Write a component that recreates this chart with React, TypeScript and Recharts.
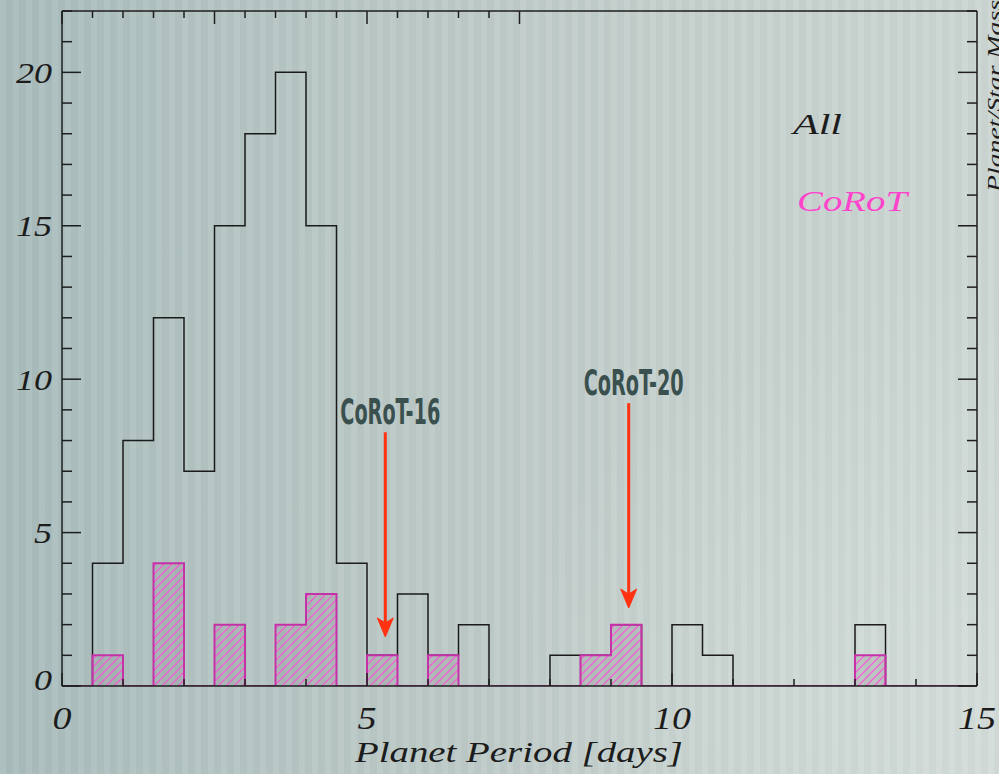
import React from 'react';
import { ComposedChart, Area, XAxis, YAxis, ReferenceLine, ReferenceDot } from 'recharts';

// Histogram of planet orbital periods, 0.5-day bins starting at 0 days
const binWidth = 0.5;
const allCounts = [0, 4, 8, 12, 7, 15, 18, 20, 15, 4, 1, 3, 1, 2, 0, 0, 1, 1, 2, 0, 2, 1, 0, 0, 0, 0, 2, 0, 0, 0];
const corotCounts = [0, 1, 0, 4, 0, 2, 0, 2, 3, 0, 1, 0, 1, 0, 0, 0, 0, 1, 2, 0, 0, 0, 0, 0, 0, 0, 1, 0, 0, 0];

const xMajorTicks = [0, 5, 10, 15];
const xTicks = [0, 1, 2, 3, 4, 5, 6, 7, 8, 9, 10, 11, 12, 13, 14, 15];
const yMajorTicks = [0, 5, 10, 15, 20];
const yTicks = [0, 1, 2, 3, 4, 5, 6, 7, 8, 9, 10, 11, 12, 13, 14, 15, 16, 17, 18, 19, 20, 21, 22];

// Highlighted planets: period, arrow start and arrow tip (counts)
const highlightNames = ['CoRoT-16', 'CoRoT-20'];
const highlightPeriods = [5.3, 9.29];
const highlightTops = [8.27, 9.22];
const highlightTips = [1.6, 2.54];

const W = 999;
const H = 774;

// stepAfter edges: one point per bin edge, last edge repeats last bin
const histData = Array.from({ length: allCounts.length + 1 }, (_, i) => {
  const k = Math.min(i, allCounts.length - 1);
  return { x: i * binWidth, all: allCounts[k], corot: corotCounts[k] };
});

const serif = "'Liberation Serif', 'DejaVu Serif', serif";
const inkColor = '#1c1c1c';
const axisStroke = '#1e1e1e';

const labelText = (value: number) => String(value);

// Bottom axis: inward tick marks, labels on the major ones
const BottomTick = (props: any) => {
  const { x, y, payload } = props;
  const major = xMajorTicks.includes(payload.value);
  const txt = labelText(payload.value);
  return (
    <g>
      <line x1={x} y1={y} x2={x} y2={y - (major ? 13 : 7)} stroke={axisStroke} strokeWidth={1.5} />
      {major && (
        <text
          x={x}
          y={y + 32}
          textAnchor="middle"
          dominantBaseline="central"
          fontFamily={serif}
          fontStyle="italic"
          fontSize={31}
          textLength={txt.length * 19}
          lengthAdjust="spacingAndGlyphs"
          fill={inkColor}
        >
          {txt}
        </text>
      )}
    </g>
  );
};

// Left axis: inward tick marks, labels on the major ones
const LeftTick = (props: any) => {
  const { x, y, payload } = props;
  const major = yMajorTicks.includes(payload.value);
  const txt = labelText(payload.value);
  return (
    <g>
      <line x1={x} y1={y} x2={x + (major ? 19 : 10)} y2={y} stroke={axisStroke} strokeWidth={1.5} />
      {major && (
        <text
          x={x - 10}
          y={payload.value === 0 ? y - 7 : y}
          textAnchor="end"
          dominantBaseline="central"
          fontFamily={serif}
          fontStyle="italic"
          fontSize={30}
          textLength={txt.length * 18}
          lengthAdjust="spacingAndGlyphs"
          fill={inkColor}
        >
          {txt}
        </text>
      )}
    </g>
  );
};

const TopTick = (props: any) => {
  const { x, y, payload } = props;
  const major = xMajorTicks.includes(payload.value);
  return <line x1={x} y1={y} x2={x} y2={y + (major ? 13 : 7)} stroke={axisStroke} strokeWidth={1.5} />;
};

const RightTick = (props: any) => {
  const { x, y, payload } = props;
  const major = yMajorTicks.includes(payload.value);
  return <line x1={x} y1={y} x2={x - (major ? 19 : 10)} y2={y} stroke={axisStroke} strokeWidth={1.5} />;
};

const ArrowHead = (props: any) => {
  const { cx, cy } = props;
  const d = `M ${cx} ${cy} L ${cx - 8} ${cy - 19} L ${cx} ${cy - 14} L ${cx + 8} ${cy - 19} Z`;
  return <path d={d} fill="#ff3212" stroke="#ff3212" strokeWidth={1} strokeLinejoin="miter" />;
};

const makeNameLabel = (name: string) => (props: any) => {
  const { cx, cy } = props;
  return (
    <text
      x={cx + 5}
      y={cy - 8}
      textAnchor="middle"
      fontFamily="'DejaVu Sans Condensed', 'DejaVu Sans', sans-serif"
      fontWeight="bold"
      fontSize={36}
      textLength={100}
      lengthAdjust="spacingAndGlyphs"
      fill="#3a504e"
    >
      {name}
    </text>
  );
};

export default function App() {
  return (
    <div
      style={{
        position: 'absolute',
        left: 0,
        top: 0,
        width: W,
        height: H,
        overflow: 'hidden',
        background:
          'repeating-linear-gradient(90deg, rgba(255,255,255,0.045) 0px, rgba(255,255,255,0.045) 6px, rgba(0,0,0,0.02) 6px, rgba(0,0,0,0.02) 13px), ' +
          'radial-gradient(ellipse 700px 600px at 1000px 700px, rgba(220,228,224,0.5), rgba(220,228,224,0) 70%), ' +
          'linear-gradient(90deg, #a9bcbc 0%, #b3c4c2 20%, #bdcac8 45%, #c6d1ce 70%, #ccd6d3 100%)',
      }}
    >
      <ComposedChart width={W} height={H} data={histData} margin={{ top: 10, right: 21, left: 12, bottom: 48 }}>
        <defs>
          <pattern id="corotHatch" patternUnits="userSpaceOnUse" width={8} height={8}>
            <rect x={0} y={0} width={8} height={8} fill="#8e9292" fillOpacity={0.3} />
            <path d="M -2 2 L 2 -2 M 0 8 L 8 0 M 6 10 L 10 6" stroke="#ff4fd6" strokeWidth={1.1} />
          </pattern>
        </defs>

        <XAxis
          xAxisId="x"
          type="number"
          dataKey="x"
          domain={[0, 15]}
          ticks={xTicks}
          interval={0}
          allowDataOverflow
          height={40}
          tickSize={0}
          tickMargin={0}
          tickLine={false}
          axisLine={{ stroke: axisStroke, strokeWidth: 1.5 }}
          tick={<BottomTick />}
        />
        <XAxis
          xAxisId="xTop"
          orientation="top"
          type="number"
          domain={[0, 15]}
          ticks={xTicks}
          interval={0}
          allowDataOverflow
          height={1}
          tickSize={0}
          tickMargin={0}
          tickLine={false}
          axisLine={{ stroke: axisStroke, strokeWidth: 1.5 }}
          tick={<TopTick />}
        />
        <YAxis
          yAxisId="y"
          type="number"
          domain={[0, 22]}
          ticks={yTicks}
          interval={0}
          allowDataOverflow
          width={50}
          tickSize={0}
          tickMargin={0}
          tickLine={false}
          axisLine={{ stroke: axisStroke, strokeWidth: 1.5 }}
          tick={<LeftTick />}
        />
        <YAxis
          yAxisId="yRight"
          orientation="right"
          type="number"
          domain={[0, 22]}
          ticks={yTicks}
          interval={0}
          allowDataOverflow
          width={1}
          tickSize={0}
          tickMargin={0}
          tickLine={false}
          axisLine={{ stroke: axisStroke, strokeWidth: 1.5 }}
          tick={<RightTick />}
        />

        {/* all planets: open step outline */}
        <Area
          xAxisId="x"
          yAxisId="y"
          type="stepAfter"
          dataKey="all"
          stroke="#1a1a1a"
          strokeWidth={1.5}
          fill="none"
          baseValue={0}
          dot={false}
          activeDot={false}
          isAnimationActive={false}
        />
        {/* CoRoT planets: hatched step histogram */}
        <Area
          xAxisId="x"
          yAxisId="y"
          type="stepAfter"
          dataKey="corot"
          stroke="#c532a8"
          strokeWidth={2}
          fill="url(#corotHatch)"
          fillOpacity={1}
          baseValue={0}
          dot={false}
          activeDot={false}
          isAnimationActive={false}
        />

        {highlightNames.map((name, i) => (
          <ReferenceLine
            key={`shaft-${name}`}
            xAxisId="x"
            yAxisId="y"
            segment={[
              { x: highlightPeriods[i], y: highlightTops[i] },
              { x: highlightPeriods[i], y: highlightTips[i] + 0.3 },
            ]}
            stroke="#ff3212"
            strokeWidth={3}
          />
        ))}
        {highlightNames.map((name, i) => (
          <ReferenceDot
            key={`head-${name}`}
            xAxisId="x"
            yAxisId="y"
            x={highlightPeriods[i]}
            y={highlightTips[i]}
            r={0}
            shape={ArrowHead}
          />
        ))}
        {highlightNames.map((name, i) => (
          <ReferenceDot
            key={`name-${name}`}
            xAxisId="x"
            yAxisId="y"
            x={highlightPeriods[i]}
            y={highlightTops[i]}
            r={0}
            shape={makeNameLabel(name)}
          />
        ))}
      </ComposedChart>

      <svg width={W} height={H} style={{ position: 'absolute', left: 0, top: 0, pointerEvents: 'none' }}>
        <text x={519} y={762} textAnchor="middle" fontFamily={serif} fontStyle="italic" fontSize={30} textLength={328} lengthAdjust="spacingAndGlyphs" fill={inkColor}>
          Planet Period [days]
        </text>
        <text x={793} y={134} fontFamily={serif} fontStyle="italic" fontSize={30} textLength={49} lengthAdjust="spacingAndGlyphs" fill={inkColor}>
          All
        </text>
        <text x={797} y={211} fontFamily={serif} fontStyle="italic" fontSize={30} textLength={110} lengthAdjust="spacingAndGlyphs" fill="#ff44cc">
          CoRoT
        </text>
        <text
          x={1001}
          y={192}
          transform="rotate(-90 1001 192)"
          fontFamily={serif}
          fontStyle="italic"
          fontSize={19}
          textLength={192}
          lengthAdjust="spacingAndGlyphs"
          fill={inkColor}
        >
          Planet/Star Mass
        </text>
      </svg>
    </div>
  );
}
